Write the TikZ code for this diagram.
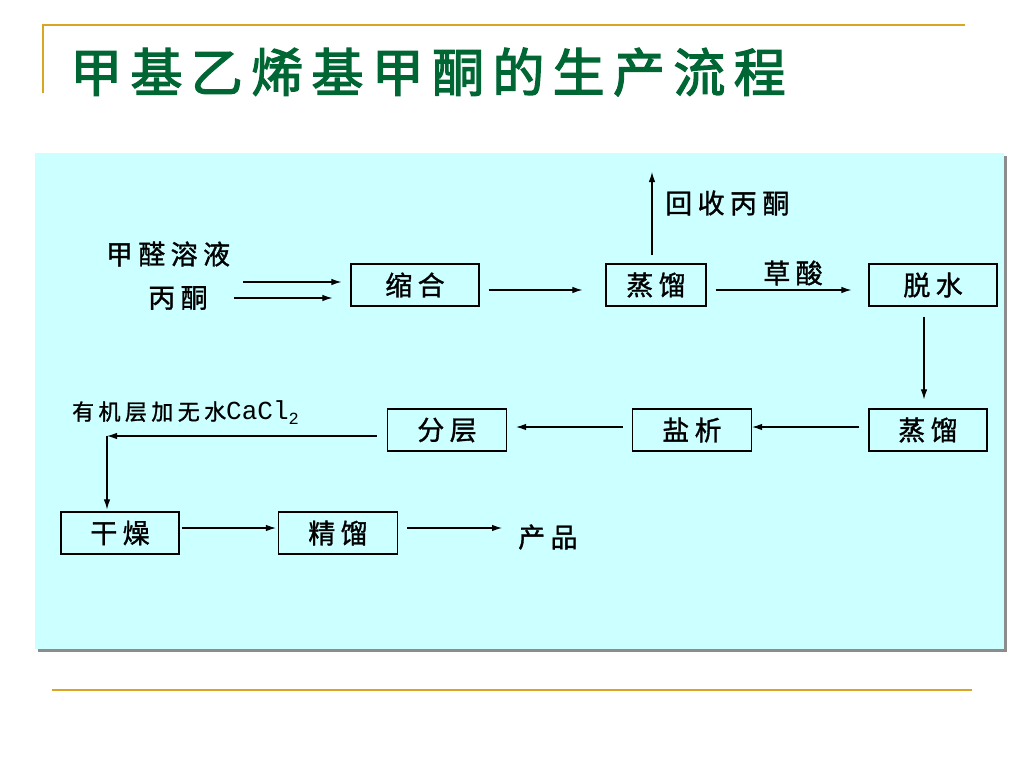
\documentclass[tikz,border=0pt]{standalone}
\usepackage{fontspec}
\setmainfont{Liberation Serif}
\newfontfamily\cjk[LetterSpace=20,FakeBold=1.2]{Noto Sans CJK SC}
\newfontfamily\cjktitle[LetterSpace=16,FakeBold=2.5]{Noto Sans CJK SC}
\newfontfamily\latmono{Liberation Mono}
\usetikzlibrary{arrows.meta}
\definecolor{panel}{RGB}{204,255,255}
\definecolor{gold}{RGB}{218,165,32}
\definecolor{titlegreen}{RGB}{0,102,51}

\begin{document}
\begin{tikzpicture}[x=1pt,y=-1pt,
    box/.style={draw,line width=1.2pt,inner sep=0pt,minimum height=42pt,font=\cjk\fontsize{27}{30}\selectfont},
    lbl/.style={inner sep=0pt,font=\cjk\fontsize{27}{30}\selectfont},
    flow/.style={line width=1.1pt,-{Latex[length=10pt,width=6.5pt]}}]
	\useasboundingbox (0,0) rectangle (1024,768);
	\fill[white] (0,0) rectangle (1024,768);
	\draw[gold,line width=2pt] (43,93) -- (43,25) -- (965,25);
	\draw[gold,line width=2pt] (52,690) -- (972,690);
	\node[text=titlegreen,font=\cjktitle\fontsize{52}{60}\selectfont] (title) at (428,72) {甲基乙烯基甲酮的生产流程};
	\fill[gray!90] (38,156) rectangle (1007,652);
	\fill[panel] (35,153) rectangle (1004,649);
	\node[box,minimum width=128pt] (cond) at (415,285) {缩合};
	\node[box,minimum width=100pt] (dist1) at (656,285) {蒸馏};
	\node[box,minimum width=128pt] (dehyd) at (933,285) {脱水};
	\node[box,minimum width=118pt] (dist2) at (928,430) {蒸馏};
	\node[box,minimum width=119pt] (salt) at (692,430) {盐析};
	\node[box,minimum width=119pt] (sep) at (447,430) {分层};
	\node[box,minimum width=118pt] (dry) at (120,533) {干燥};
	\node[box,minimum width=119pt] (rect) at (338,533) {精馏};
	\node[lbl] (form) at (168,254) {甲醛溶液};
	\node[lbl] (acet) at (178,298) {丙酮};
	\node[lbl,anchor=west] (recov) at (665,203) {回收丙酮};
	\node[lbl] (oxal) at (793,273) {草酸};
	\node[lbl,anchor=west] (prod) at (518,537) {产品};
	\node[lbl,anchor=west,font=\cjk\fontsize{22}{26}\selectfont] (org) at (72,413) {有机层加无水{\latmono\fontsize{26}{28}\selectfont CaCl\raisebox{-5pt}{\fontsize{17}{18}\selectfont 2}}};
	\coordinate (in1) at (243,282);
	\coordinate (in2) at (234,298);
	\coordinate (top) at (652,172);
	\coordinate (down) at ([xshift=-4pt]dist2.north);
	\coordinate (corner) at (107,436);
	\draw[flow,shorten >=9pt] (in1) -- (in1 -| cond.west);
	\draw[flow,shorten >=18pt] (in2) -- (in2 -| cond.west);
	\draw[flow,shorten <=9pt,shorten >=23pt] ([yshift=-5pt]cond.east) -- ([yshift=-5pt]dist1.west);
	\draw[flow,shorten <=9pt,shorten >=17pt] ([yshift=-5pt]dist1.east) -- ([yshift=-5pt]dehyd.west);
	\draw[flow,shorten <=8pt] (top |- dist1.north) -- (top);
	\draw[flow,shorten <=10pt,shorten >=9pt] (down |- dehyd.south) -- (down);
	\draw[flow,shorten <=9pt] ([yshift=3pt]dist2.west) -- ([yshift=3pt]salt.east);
	\draw[flow,shorten <=9pt,shorten >=9pt] ([yshift=3pt]salt.west) -- ([yshift=3pt]sep.east);
	\draw[flow,shorten <=10pt] (corner -| sep.west) -- (corner);
	\draw[flow,shorten >=2pt] (corner) -- (corner |- dry.north);
	\draw[flow,shorten <=2pt,shorten >=2pt] ([yshift=5pt]dry.east) -- ([yshift=5pt]rect.west);
	\draw[flow,shorten <=9pt,shorten >=16pt] ([yshift=5pt]rect.east) -- ([yshift=5pt]rect.east -| prod.west);
\end{tikzpicture}
\end{document}
